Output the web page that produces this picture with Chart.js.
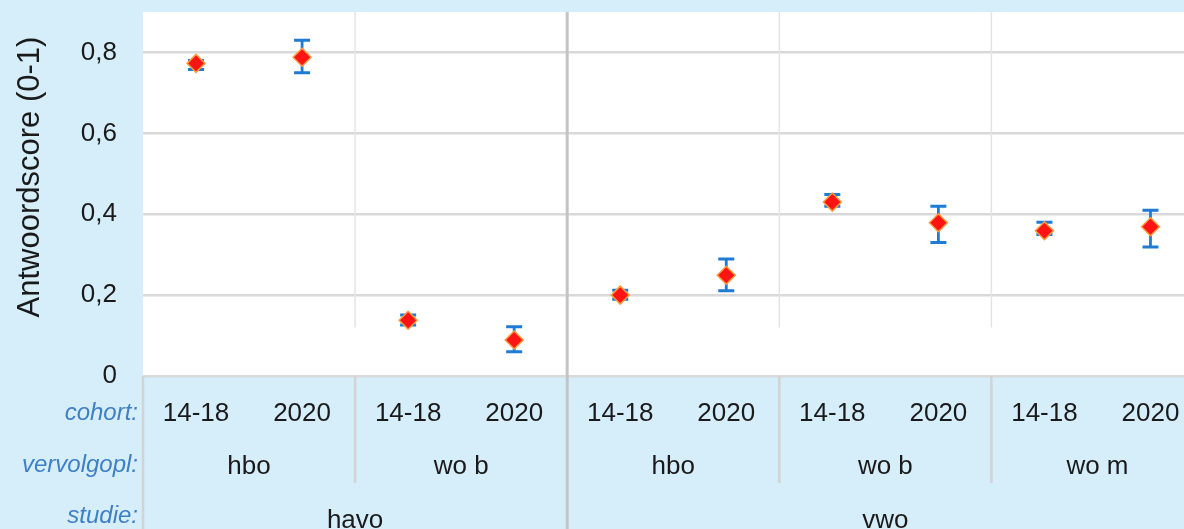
<!DOCTYPE html>
<html><head><meta charset="utf-8">
<script src="https://cdn.jsdelivr.net/npm/chart.js@4.4.1/dist/chart.umd.min.js"></script>
<style>
html,body{margin:0;padding:0;background:#d6eefa;overflow:hidden;width:1184px;height:529px;}
#wrap{width:1214px;height:529px;}
canvas{display:block;}
</style></head><body>
<div id="wrap"><canvas id="c" width="1214" height="529"></canvas></div>
<script>
const cohort = ['14-18','2020','14-18','2020','14-18','2020','14-18','2020','14-18','2020'];
const vervolgopl = ['hbo','hbo','wo b','wo b','hbo','hbo','wo b','wo b','wo m','wo m'];
const studie = ['havo','havo','havo','havo','vwo','vwo','vwo','vwo','vwo','vwo'];
const score = [0.773,0.788,0.138,0.089,0.200,0.249,0.430,0.379,0.359,0.369];
const lower = [0.758,0.750,0.126,0.060,0.190,0.211,0.420,0.330,0.350,0.319];
const upper = [0.780,0.830,0.151,0.122,0.212,0.289,0.449,0.420,0.380,0.410];
const yTicks = [0,0.2,0.4,0.6,0.8];
const rowTitles = ['cohort:','vervolgopl:','studie:'];
const yTitle = 'Antwoordscore (0-1)';

const FONT = "'Liberation Sans', Arial, Helvetica, sans-serif";

function runs(arr, parent){
  const out=[]; let s=0;
  for(let i=1;i<=arr.length;i++){
    if(i===arr.length || arr[i]!==arr[s] || (parent && parent[i]!==parent[s])){
      out.push({label:arr[s],start:s,end:i-1}); s=i;
    }
  }
  return out;
}

const multiLevel = {
  id:'multiLevel',
  beforeDraw(chart){
    const {ctx, chartArea:a} = chart;
    ctx.save();
    ctx.fillStyle='#ffffff';
    ctx.fillRect(a.left,a.top,a.right-a.left,a.bottom-a.top);
    ctx.restore();
  },
  beforeDatasetsDraw(chart){
    const {ctx, chartArea:a, scales:{x,y}} = chart;
    const H = chart.height;
    const mid = i => (x.getPixelForValue(i)+x.getPixelForValue(i+1))/2;
    ctx.save();
    const sGroups = runs(studie);
    const vGroups = runs(vervolgopl, studie);
    const studieEnds = new Set(sGroups.map(g=>g.end));
    vGroups.forEach(g=>{
      if(g.end===cohort.length-1 || studieEnds.has(g.end)) return;
      const xs = mid(g.end);
      ctx.strokeStyle='#e4e4e4'; ctx.lineWidth=1.5;
      ctx.beginPath(); ctx.moveTo(xs,a.top); ctx.lineTo(xs,y.getPixelForValue(0.12)); ctx.stroke();
      ctx.strokeStyle='#d3d3d3'; ctx.lineWidth=2.5;
      ctx.beginPath(); ctx.moveTo(xs,a.bottom); ctx.lineTo(xs,a.bottom+107); ctx.stroke();
    });
    sGroups.forEach(g=>{
      if(g.end===cohort.length-1) return;
      const xs = mid(g.end);
      ctx.strokeStyle='#c4c4c4'; ctx.lineWidth=3;
      ctx.beginPath(); ctx.moveTo(xs,a.top); ctx.lineTo(xs,H); ctx.stroke();
    });
    ctx.strokeStyle='#d3d3d3'; ctx.lineWidth=2.5;
    ctx.beginPath(); ctx.moveTo(a.left,a.bottom); ctx.lineTo(a.left,H); ctx.stroke();
    // error bars
    ctx.strokeStyle='#1f7bd3';
    for(let i=0;i<score.length;i++){
      const px = x.getPixelForValue(i);
      const yl = y.getPixelForValue(lower[i]);
      const yu = y.getPixelForValue(upper[i]);
      ctx.lineWidth=2.8;
      ctx.beginPath(); ctx.moveTo(px,yl); ctx.lineTo(px,yu); ctx.stroke();
      ctx.lineWidth=3;
      ctx.beginPath();
      ctx.moveTo(px-8,yl); ctx.lineTo(px+8,yl);
      ctx.moveTo(px-8,yu); ctx.lineTo(px+8,yu);
      ctx.stroke();
    }
    ctx.restore();
  },
  afterDraw(chart){
    const {ctx, chartArea:a, scales:{x}} = chart;
    ctx.save();
    ctx.fillStyle='#1a1a1a';
    ctx.textAlign='center'; ctx.textBaseline='alphabetic';
    ctx.font = `26px ${FONT}`;
    const b = a.bottom;
    cohort.forEach((t,i)=>ctx.fillText(t, x.getPixelForValue(i), b+45));
    const edgeL = i => i===0 ? a.left : (x.getPixelForValue(i-1)+x.getPixelForValue(i))/2;
    const edgeR = i => i===cohort.length-1 ? a.right : (x.getPixelForValue(i)+x.getPixelForValue(i+1))/2;
    runs(vervolgopl, studie).forEach(g=>ctx.fillText(g.label,(edgeL(g.start)+edgeR(g.end))/2, b+98));
    runs(studie).forEach(g=>ctx.fillText(g.label,(edgeL(g.start)+edgeR(g.end))/2, b+152));
    // row titles
    ctx.fillStyle='#3f7fc4'; ctx.textAlign='right';
    ctx.font = `italic 24px ${FONT}`;
    const rb=[44,96,147];
    rowTitles.forEach((t,k)=>ctx.fillText(t, a.left-5, b+rb[k]));
    // y title
    ctx.fillStyle='#1a1a1a';
    ctx.font = `31px ${FONT}`;
    ctx.translate(30, (a.top+a.bottom)/2 - 17);
    ctx.rotate(-Math.PI/2);
    ctx.textAlign='center'; ctx.textBaseline='middle';
    ctx.fillText(yTitle,0,0);
    ctx.restore();
  }
};

const chart = new Chart(document.getElementById('c'), {
  type:'line',
  data:{
    labels: cohort,
    datasets:[{
      data: score,
      showLine:false,
      pointStyle:'rectRot',
      pointRadius:9,
      pointHoverRadius:9,
      pointBackgroundColor:'#ff1414',
      pointBorderColor:'#ff9b3d',
      pointBorderWidth:1.5
    }]
  },
  options:{
    responsive:false, animation:false, devicePixelRatio:1,
    layout:{padding:{top:12,bottom:153,left:0,right:0}},
    plugins:{legend:{display:false}, tooltip:{enabled:false}},
    scales:{
      x:{type:'category', offset:true, display:false},
      y:{
        min:0, max:0.9,
        afterBuildTicks(s){ s.ticks = yTicks.map(v=>({value:v})); },
        afterFit(s){ s.width=143; s.paddingTop=0; s.paddingBottom=0; },
        ticks:{
          font:{family:FONT,size:26}, color:'#1a1a1a', padding:26,
          callback:v=> v===0 ? '0' : Number(v).toFixed(1).replace('.',',')
        },
        grid:{color:'#d9d9d9', lineWidth:2.5, drawTicks:false},
        border:{display:false}
      }
    }
  },
  plugins:[multiLevel]
});
</script>
</body></html>
